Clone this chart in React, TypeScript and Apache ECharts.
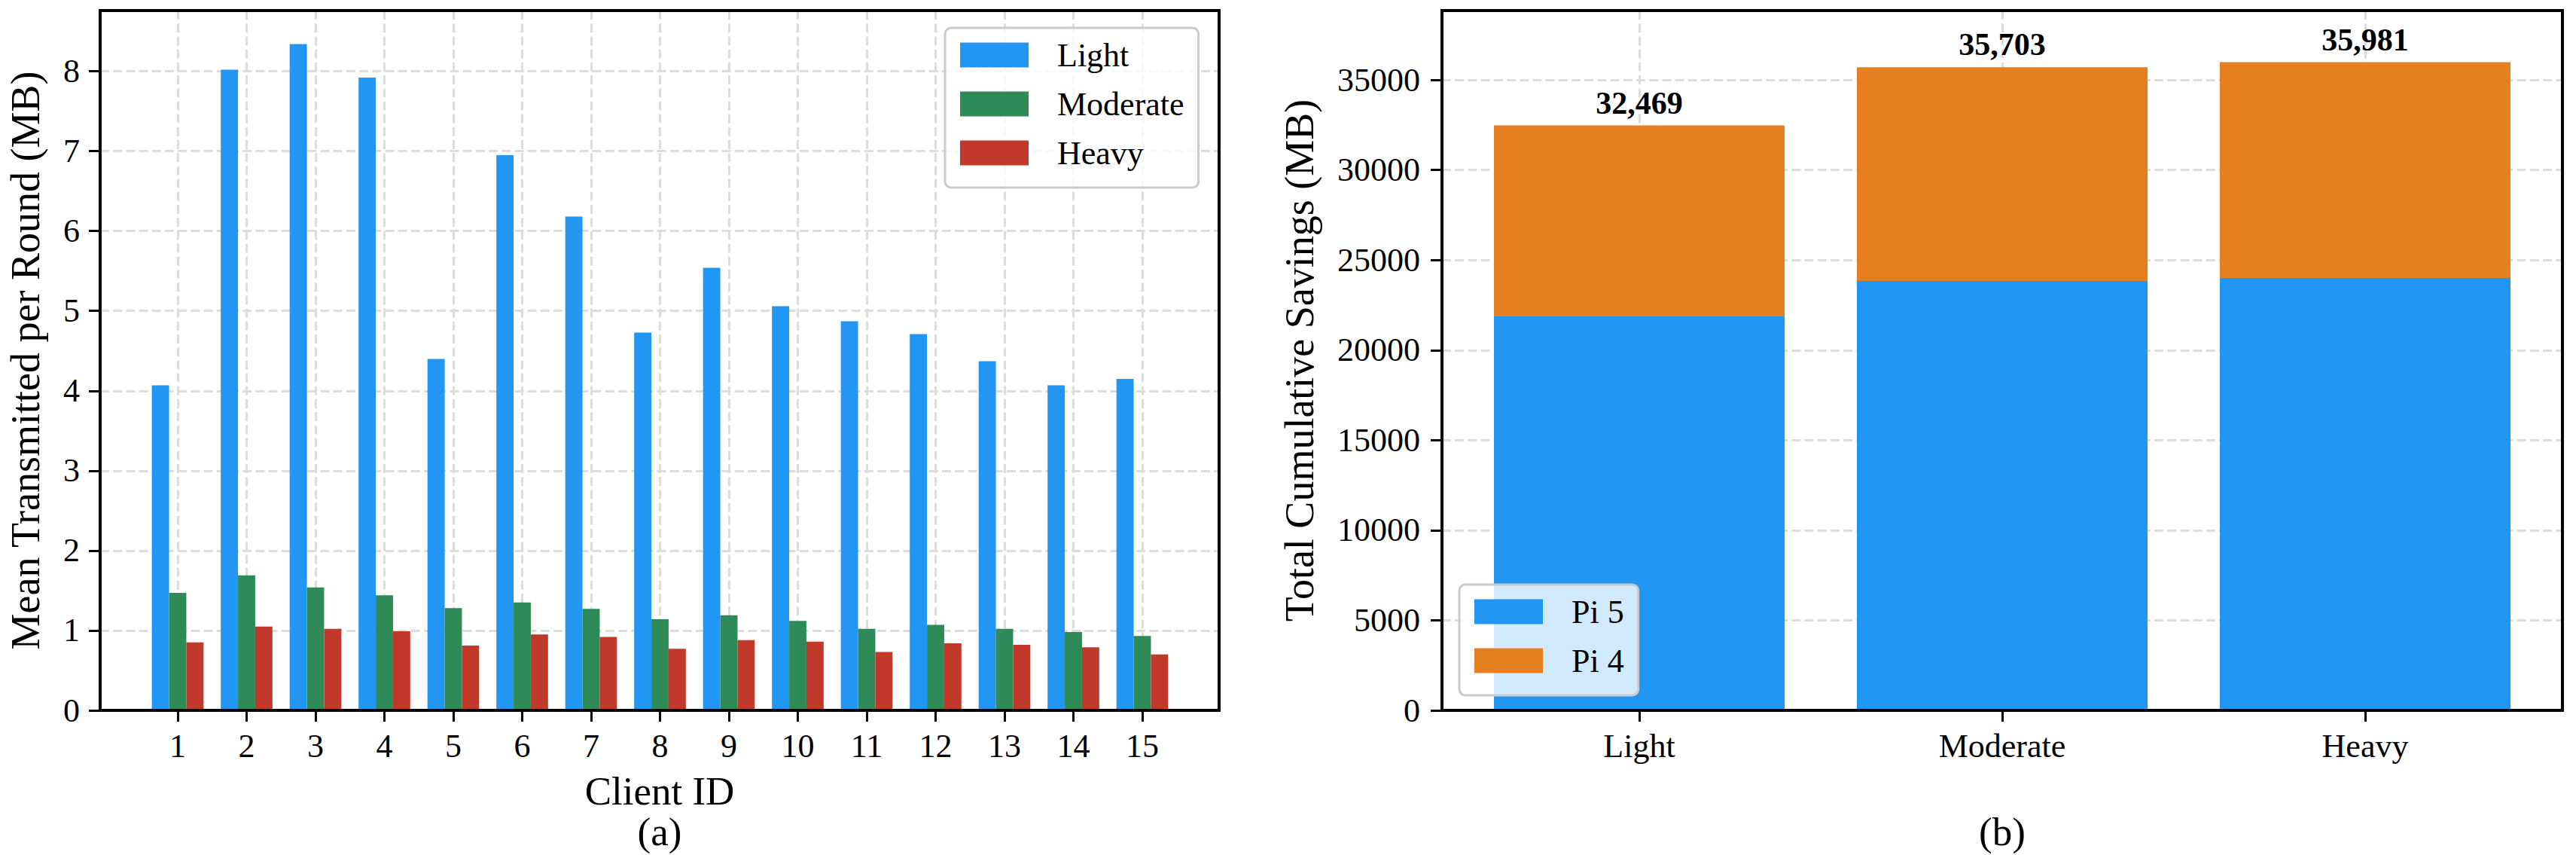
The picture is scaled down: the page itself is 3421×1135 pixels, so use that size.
import React, { useEffect, useRef } from 'react';
import * as echarts from 'echarts';

// ---------- Data ----------
const clientIds = ['1', '2', '3', '4', '5', '6', '7', '8', '9', '10', '11', '12', '13', '14', '15'];
const lightMB = [4.07, 8.02, 8.34, 7.92, 4.4, 6.95, 6.18, 4.73, 5.54, 5.06, 4.87, 4.71, 4.37, 4.07, 4.15];
const moderateMB = [1.47, 1.69, 1.54, 1.44, 1.28, 1.35, 1.27, 1.14, 1.19, 1.12, 1.02, 1.07, 1.02, 0.98, 0.93];
const heavyMB = [0.85, 1.05, 1.02, 0.99, 0.81, 0.95, 0.92, 0.77, 0.88, 0.86, 0.73, 0.84, 0.82, 0.79, 0.7];
const leftYTicks = [0, 1, 2, 3, 4, 5, 6, 7, 8];

const workloads = ['Light', 'Moderate', 'Heavy'];
const pi5Savings = [21870, 23835, 24000];
const pi4Savings = [10599, 11868, 11981];
const rightYTicks = [0, 5000, 10000, 15000, 20000, 25000, 30000, 35000];

// ---------- Style ----------
const FONT = '"Liberation Serif", "Times New Roman", serif';
const BLUE = '#2196F3';
const GREEN = '#2E8B57';
const RED = '#C0392B';
const ORANGE = '#E67E22';
const GRID_LINE = { color: '#dddddd', width: 3.2, type: [12, 5.2] as number[] };

const totals = pi5Savings.map((v, i) => v + pi4Savings[i]);

export default function App() {
  const ref = useRef<HTMLDivElement>(null);

  useEffect(() => {
    document.body.style.margin = '0';
    if (!ref.current) return;
    const chart = echarts.init(ref.current, undefined, { renderer: 'svg' });

    const tickStyle = { color: '#000', width: 3 };
    const labelBase = { color: '#000', fontFamily: FONT, fontSize: 44 };

    const legendCommon = {
      orient: 'vertical',
      icon: 'rect',
      itemWidth: 91,
      itemHeight: 33,
      itemGap: 21,
      selectedMode: false,
      backgroundColor: 'rgba(255,255,255,0.8)',
      borderColor: '#cccccc',
      borderWidth: 3,
      borderRadius: 8,
      padding: [14, 19, 24, 20],
      textStyle: { color: '#000', fontFamily: FONT, fontSize: 44, padding: [0, 0, 0, 33] },
    };

    const option: any = {
      animation: false,
      backgroundColor: '#ffffff',
      textStyle: { fontFamily: FONT },
      grid: [
        { left: 133, top: 14, width: 1486, height: 929 },
        { left: 190.25, top: 14, width: 1372.5, height: 929 },
        { left: 1915, top: 14, width: 1488, height: 929 },
        { left: 1936, top: 14, width: 1446, height: 929 },
      ],
      xAxis: [
        { gridIndex: 0, type: 'value', min: 0, max: 1, show: false },
        {
          gridIndex: 1,
          type: 'category',
          data: clientIds,
          axisLine: { show: false },
          axisTick: { show: true, alignWithLabel: true, length: 15, lineStyle: tickStyle },
          axisLabel: { ...labelBase, margin: 25 },
          splitLine: { show: true, alignWithLabel: true, lineStyle: GRID_LINE },
        },
        { gridIndex: 2, type: 'value', min: 0, max: 1, show: false },
        {
          gridIndex: 3,
          type: 'category',
          data: workloads,
          axisLine: { show: false },
          axisTick: { show: true, alignWithLabel: true, length: 15, lineStyle: tickStyle },
          axisLabel: { ...labelBase, margin: 25 },
          splitLine: { show: true, alignWithLabel: true, lineStyle: GRID_LINE },
        },
      ],
      yAxis: [
        {
          gridIndex: 0,
          type: 'value',
          min: 0,
          max: 8.76,
          axisLine: { show: false },
          axisTick: { show: true, length: 15, lineStyle: tickStyle, customValues: leftYTicks },
          axisLabel: { ...labelBase, margin: 27, customValues: leftYTicks, formatter: (v: number) => String(v) },
          splitLine: { show: true, lineStyle: GRID_LINE },
        },
        { gridIndex: 1, type: 'value', min: 0, max: 8.76, show: false },
        {
          gridIndex: 2,
          type: 'value',
          min: 0,
          max: 38850,
          axisLine: { show: false },
          axisTick: { show: true, length: 15, lineStyle: tickStyle, customValues: rightYTicks },
          axisLabel: { ...labelBase, margin: 29, customValues: rightYTicks, formatter: (v: number) => String(v) },
          splitLine: { show: true, lineStyle: GRID_LINE },
        },
        { gridIndex: 3, type: 'value', min: 0, max: 38850, show: false },
      ],
      legend: [
        { ...legendCommon, left: 1255, top: 37, data: ['Light', 'Moderate', 'Heavy'] },
        { ...legendCommon, left: 1938, top: 776, data: ['Pi 5', 'Pi 4'] },
      ],
      series: [
        {
          name: 'Light', type: 'bar', xAxisIndex: 1, yAxisIndex: 1, data: lightMB,
          barWidth: 22.875, barGap: '0%', itemStyle: { color: BLUE },
        },
        {
          name: 'Moderate', type: 'bar', xAxisIndex: 1, yAxisIndex: 1, data: moderateMB,
          barWidth: 22.875, barGap: '0%', itemStyle: { color: GREEN },
        },
        {
          name: 'Heavy', type: 'bar', xAxisIndex: 1, yAxisIndex: 1, data: heavyMB,
          barWidth: 22.875, barGap: '0%', itemStyle: { color: RED },
        },
        {
          name: 'Pi 5', type: 'bar', xAxisIndex: 3, yAxisIndex: 3, stack: 'total', data: pi5Savings,
          barWidth: 386, itemStyle: { color: BLUE },
        },
        {
          name: 'Pi 4', type: 'bar', xAxisIndex: 3, yAxisIndex: 3, stack: 'total', data: pi4Savings,
          barWidth: 386, itemStyle: { color: ORANGE },
          label: {
            show: true,
            position: 'top',
            distance: 9,
            color: '#000',
            fontFamily: FONT,
            fontSize: 42,
            fontWeight: 'bold',
            formatter: (p: any) => totals[p.dataIndex].toLocaleString('en-US'),
          },
        },
      ],
      graphic: [
        {
          type: 'rect', z: 100, silent: true,
          shape: { x: 133, y: 14, width: 1486, height: 929 },
          style: { fill: 'none', stroke: '#000', lineWidth: 4 },
        },
        {
          type: 'rect', z: 100, silent: true,
          shape: { x: 1915, y: 14, width: 1488, height: 929 },
          style: { fill: 'none', stroke: '#000', lineWidth: 4 },
        },
        {
          type: 'text', x: 34, y: 478.5, rotation: Math.PI / 2,
          style: {
            text: 'Mean Transmitted per Round (MB)', fill: '#000', fontFamily: FONT, fontSize: 54,
            align: 'center', verticalAlign: 'middle',
          },
        },
        {
          type: 'text', x: 1726, y: 478.5, rotation: Math.PI / 2,
          style: {
            text: 'Total Cumulative Savings (MB)', fill: '#000', fontFamily: FONT, fontSize: 54,
            align: 'center', verticalAlign: 'middle',
          },
        },
        {
          type: 'text', x: 876, y: 1050,
          style: {
            text: 'Client ID', fill: '#000', fontFamily: FONT, fontSize: 53,
            align: 'center', verticalAlign: 'middle',
          },
        },
        {
          type: 'text', x: 876, y: 1104,
          style: {
            text: '(a)', fill: '#000', fontFamily: FONT, fontSize: 53,
            align: 'center', verticalAlign: 'middle',
          },
        },
        {
          type: 'text', x: 2659, y: 1104,
          style: {
            text: '(b)', fill: '#000', fontFamily: FONT, fontSize: 53,
            align: 'center', verticalAlign: 'middle',
          },
        },
      ],
    };

    chart.setOption(option);
    return () => chart.dispose();
  }, []);

  return <div ref={ref} style={{ width: 3421, height: 1135 }} />;
}
